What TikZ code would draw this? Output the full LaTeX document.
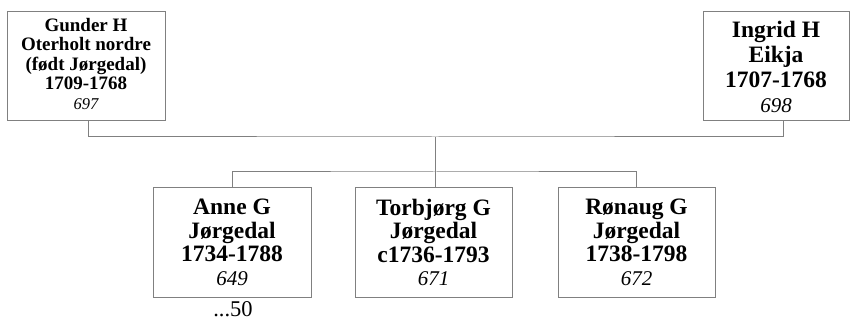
\documentclass[tikz,border=0pt]{standalone}
\usepackage{fontspec}
\setmainfont{Liberation Serif}
\begin{document}
\begin{tikzpicture}[x=1pt,y=-1pt,
  box/.style={draw=black!50, line width=1pt, fill=white, align=center, inner sep=0pt},
  small/.style={box, minimum width=158pt, minimum height=109pt, font=\bfseries\fontsize{19}{19.5}\selectfont},
  big/.style={box, minimum width=157pt, minimum height=109pt, font=\bfseries\fontsize{23.5}{23.5}\selectfont},
  link/.style={draw=black!50, line width=1pt}]
\useasboundingbox (0,0) rectangle (850,320);
\newcommand\numA[1]{{\mdseries\itshape\fontsize{16.5}{18}\selectfont #1\rule[-6pt]{0pt}{6pt}}}
\newcommand\numB[1]{{\mdseries\itshape\fontsize{21}{26}\selectfont #1}}
\node[small] (g) at (86,66.5) {Gunder H\\Oterholt nordre\\(født Jørgedal)\\1709-1768\\\numA{697}};
\node[big, minimum width=146pt, font=\bfseries\fontsize{23.5}{25}\selectfont] (i) at (776,66.5) {Ingrid H\\Eikja\\1707-1768\\\numB{698}};
\node[big, minimum width=158pt] (a) at (232,242.5) {Anne G\\Jørgedal\\1734-1788\\\numB{649}};
\node[big] (t) at (433.5,242.5) {Torbjørg G\\Jørgedal\\c1736-1793\\\numB{671}};
\node[big] (r) at (636.5,242.5) {Rønaug G\\Jørgedal\\1738-1798\\\numB{672}};
\node[font=\fontsize{22.5}{24}\selectfont, inner sep=0pt, anchor=base] (m) at (233,316.5) {...50};
\coordinate (p) at (435,137);
\coordinate (c) at (435,172);
\draw[link] ([xshift=2pt]g.south) |- (p) -| ([xshift=7pt]i.south);
\draw[link] (p) -- (c);
\draw[link] (a.north) |- (c) -| (r.north);
\draw[link] (t.north -| c) -- (c);
\end{tikzpicture}
\end{document}
